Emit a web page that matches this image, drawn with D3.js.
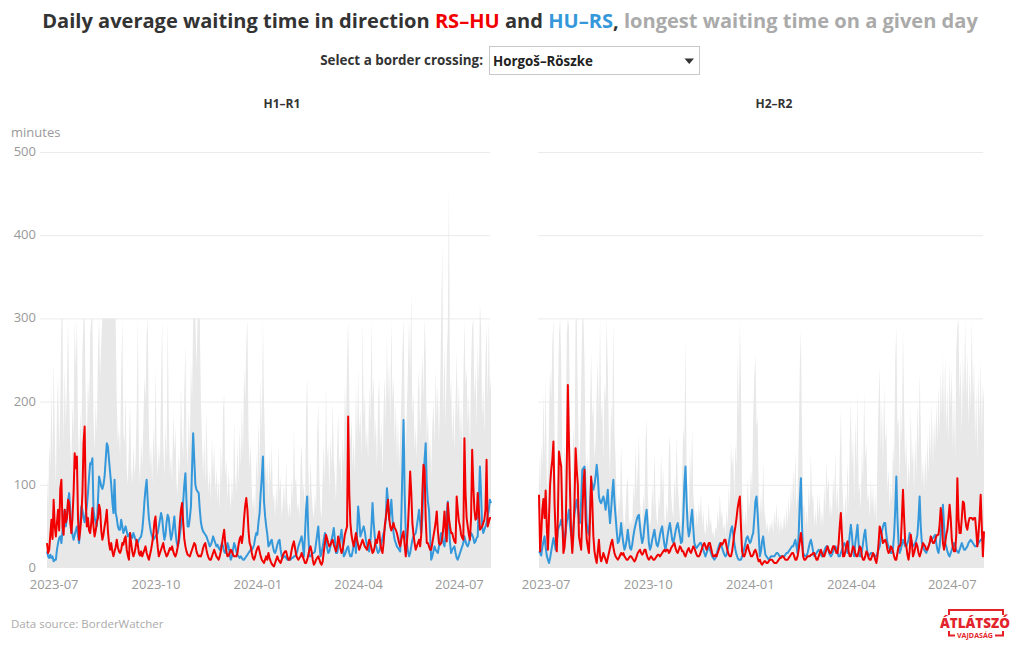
<!DOCTYPE html>
<html><head><meta charset="utf-8">
<script src="https://cdn.jsdelivr.net/npm/d3@7"></script>
<style>body{margin:0;background:#fff;} svg{display:block;font-family:"Open Sans",sans-serif;}</style>
</head><body><svg id="c" width="1020" height="650"></svg>
<script>
// ---------- DATA ----------
const startDate = "2023-06-25";
const panelTitles = ["H1–R1", "H2–R2"];
const xTickLabels = ["2023-07", "2023-10", "2024-01", "2024-04", "2024-07"];
const yTicks = [0, 100, 200, 300, 400, 500];

// H1–R1 : RS–HU daily average (minutes)
const L_RSHU = [
30,18,22,40,58,35,82,50,38,55, 70,45,95,106,50,40,70,55,60,82, 78,55,42,60,90,138,120,134,60,34,
45,62,90,150,170,80,50,60,45,42, 55,72,50,38,45,55,60,76,70,45, 34,40,50,58,70,45,30,22,30,20,
14,20,25,34,25,20,18,22,30,28, 35,38,22,15,10,42,30,20,14,18, 25,34,28,18,15,20,14,18,22,26,
18,14,10,16,22,30,40,55,62,40, 25,14,18,22,26,30,22,18,14,16, 20,24,22,26,20,16,14,18,25,35,
55,70,78,55,35,26,20,16,15,14, 18,22,26,30,28,20,16,14,15,14, 18,24,28,30,22,16,12,10,10,14,
18,22,18,14,12,10,14,20,28,38, 46,30,20,14,15,18,22,20,16,14, 14,14,18,28,35,38,30,40,60,75,
84,70,45,30,26,18,12,10,14,20, 24,26,20,14,10,8,6,10,14,10, 18,12,8,5,3,2,6,10,14,10,
8,6,10,15,18,20,20,14,10,10, 14,22,28,32,24,16,12,10,12,14, 18,14,10,6,6,10,16,22,26,20,
10,4,6,10,12,14,10,6,4,8, 20,30,40,35,30,26,28,32,34,28, 24,20,26,38,32,24,18,22,30,40,
45,50,182,90,54,40,32,26,34,42, 34,28,22,26,30,34,30,26,24,22, 28,34,30,24,18,20,26,34,30,38,
44,30,22,18,30,50,60,72,82,60, 50,45,50,54,48,46,42,36,30,26, 34,40,44,28,14,30,50,80,116,90,
54,40,30,22,26,30,34,26,40,90, 124,118,60,30,30,26,22,22,30,38, 46,55,68,45,30,28,30,36,50,68,
45,32,78,60,50,42,42,36,32,30, 86,70,56,50,40,36,34,156,90,60, 50,40,34,60,142,100,70,58,60,90,
70,46,48,50,54,58,70,130,50,55, 60,60];

// H1–R1 : HU–RS daily average (minutes)
const L_HURS = [
20,14,12,16,12,14,8,10,10,22, 30,36,38,30,45,60,70,50,60,80, 90,70,50,40,34,40,45,50,38,30,
55,74,70,60,55,66,74,90,110,126, 125,132,70,60,55,50,80,110,105,98, 95,100,110,130,150,146,130,115,100,80,
66,106,66,60,50,46,46,58,50,42, 46,50,44,38,40,42,38,36,42,38, 34,32,30,34,36,38,45,60,80,95,
106,80,60,50,42,38,34,36,38,40, 42,50,58,66,60,45,34,40,55,64, 60,45,34,40,50,62,45,32,26,30,
40,50,60,80,100,114,80,50,50,60, 74,120,162,130,100,94,92,90,70,55, 48,44,42,40,38,34,30,26,28,32,
38,34,30,26,28,24,22,26,30,26, 20,18,22,30,26,16,10,14,22,30, 26,20,16,14,12,14,12,10,10,12,
14,16,18,20,22,22,24,28,36,42, 40,55,66,90,110,134,80,62,50,40, 26,28,32,34,26,20,18,22,28,32,
34,22,14,12,14,14,12,10,10,10, 10,12,12,14,14,16,20,26,30,34, 38,28,14,40,70,86,40,14,14,16,
18,18,20,30,40,50,30,14,18,26, 34,42,36,24,18,20,26,34,40,48, 34,18,18,24,30,38,46,30,14,16,
20,24,26,18,14,14,20,28,34,18, 40,74,60,38,42,46,50,44,34,28, 22,20,30,50,78,55,38,28,22,18,
20,26,30,36,42,46,60,96,80,58, 66,82,60,42,34,30,26,24,22,20, 60,120,178,90,42,30,20,14,18,26,
34,38,40,42,50,60,70,55,42,60, 100,130,150,100,80,70,40,10,14,20, 26,22,20,18,26,35,42,36,30,26,
40,65,80,50,30,18,22,24,26,18, 12,10,14,18,22,26,30,38,32,28, 26,30,36,42,40,36,30,32,36,38,
80,122,90,50,42,46,50,54,62,70, 82,78];

// H1–R1 : longest waiting time of the day (minutes)
const L_MAX = [
110,70,150,120,220,130,250,160,100,190, 230,140,200,300,300,150,240,170,220,300, 210,150,120,200,160,300,240,300,170,120,
190,150,260,300,300,200,150,230,190,280, 300,300,180,140,200,160,260,300,230,270, 300,300,300,300,300,300,300,300,300,300,
300,300,300,200,150,170,130,230,300,160, 150,210,120,100,150,200,120,100,150,110, 130,190,300,130,100,160,120,170,230,200,
280,300,170,120,150,100,170,130,240,150, 110,150,120,220,300,150,110,170,130,300, 180,110,140,100,190,140,170,100,90,140,
110,220,160,130,210,270,150,120,190,140, 250,200,300,300,300,240,300,300,300,200, 150,110,160,100,190,120,90,120,80,160,
110,150,90,120,80,110,70,150,100,190, 210,110,130,80,120,90,70,110,80,180, 110,90,150,100,170,120,200,130,240,200,
270,300,160,120,150,90,70,90,60,140, 100,180,120,230,160,300,200,140,100,130, 80,140,100,150,80,90,60,100,70,150,
90,110,60,80,100,70,130,80,60,80, 60,110,80,170,100,110,70,80,60,120, 150,90,100,70,190,230,120,80,130,90,
70,60,90,70,160,200,110,70,60,110, 150,100,220,130,150,90,160,120,200,130, 110,80,140,190,120,140,90,160,120,220,
170,250,300,200,150,180,120,160,110,220, 150,240,160,190,130,300,180,210,140,170, 130,220,170,300,200,230,150,180,120,200,
230,140,180,110,190,230,170,280,200,250, 170,300,200,230,150,200,130,180,120,160, 200,260,300,190,140,190,240,300,230,334,
180,210,140,170,130,210,240,160,210,260, 200,300,260,150,190,130,160,110,170,200, 150,240,180,220,150,210,300,390,180,270,
170,250,290,462,200,230,150,200,140,200, 260,180,220,150,200,130,220,300,220,240, 170,210,140,240,290,300,200,240,170,270,
220,318,290,180,220,160,250,290,200,300, 210,230];

// H2–R2 : RS–HU daily average
const R_RSHU = [
88,20,40,70,83,60,93,50,22,60, 100,118,130,152,78,40,20,60,140,130, 122,60,18,25,42,120,220,150,90,40,
18,40,80,144,118,100,38,30,22,60, 100,118,60,34,25,18,60,110,80,38, 20,12,6,20,34,15,8,12,18,14,
10,6,12,18,24,30,34,25,18,14, 12,10,12,15,18,16,18,14,12,10, 10,12,14,14,12,10,8,10,14,18,
20,22,18,16,18,22,22,16,12,10, 12,14,12,10,10,12,14,16,16,14, 16,18,20,22,20,22,22,18,20,24,
26,28,30,24,20,18,22,26,24,20, 20,16,14,18,22,24,20,18,22,26, 24,20,16,14,14,16,20,24,28,30,
26,22,26,30,30,24,18,14,14,16, 14,18,22,26,30,28,30,34,34,26, 20,16,14,14,20,30,42,50,60,72,
80,86,50,20,14,14,18,24,28,22, 18,14,14,16,20,22,18,12,8,10, 6,4,6,8,8,6,6,8,10,10,
10,8,6,6,6,8,10,12,12,14, 14,12,10,10,10,12,14,16,18,18, 14,10,10,14,22,32,42,30,14,10,
10,12,14,14,14,16,16,18,18,14, 10,10,14,18,22,18,14,14,18,22, 26,22,18,18,22,26,26,22,18,18,
30,50,66,40,14,14,20,28,32,20, 14,14,20,26,24,18,14,14,20,26, 24,14,10,10,14,20,18,12,10,10,
14,18,16,10,6,14,30,50,45,38, 30,32,34,30,22,18,20,26,24,20, 14,10,10,18,26,26,30,60,94,60,
30,26,16,10,20,40,30,14,18,24, 30,26,18,14,18,24,30,28,26,22, 22,26,30,38,34,30,30,34,38,40,
40,52,72,60,30,22,30,40,46,60, 76,60,34,24,20,20,40,108,60,42, 42,60,80,78,60,50,46,55,60,60,
60,58,60,60,45,26,40,60,88,50, 14,44];

// H2–R2 : HU–RS daily average
const R_HURS = [
20,18,15,25,32,38,25,15,10,6, 12,20,28,36,30,22,30,45,50,52, 58,50,40,36,45,55,62,70,50,40,
36,50,65,75,82,70,60,54,80,118, 120,122,90,54,45,40,70,106,100,94, 100,110,124,110,86,80,78,82,86,80,
70,80,94,70,54,70,90,106,80,62, 45,30,32,40,54,40,30,22,26,34, 46,34,24,22,28,38,46,52,58,62,
64,50,38,30,36,50,62,70,50,30, 22,26,34,40,46,36,28,26,32,40, 46,50,38,28,22,30,40,48,54,44,
34,30,36,44,50,54,46,38,30,32, 60,100,122,80,50,38,45,60,70,48, 30,26,24,26,28,30,30,26,22,18,
14,18,22,26,22,18,14,12,10,12, 16,22,26,30,28,24,20,16,14,16, 22,30,38,46,50,40,30,22,16,12,
10,10,10,14,18,24,30,36,38,34, 30,32,38,42,60,80,86,66,40,14, 20,32,38,26,16,14,12,10,12,14,
14,14,14,16,18,18,16,14,14,14, 14,14,16,18,18,20,22,24,26,26, 30,34,26,18,40,80,108,50,18,16,
14,14,18,24,30,34,28,20,14,16, 18,20,22,20,16,14,16,20,24,26, 26,20,16,14,16,20,24,26,24,18,
14,14,18,22,26,30,28,22,18,26, 40,52,40,20,14,30,40,52,30,14, 14,20,30,40,46,30,18,14,16,18,
18,16,14,14,14,18,22,26,34,44, 50,54,54,40,30,26,22,18,18,24, 40,70,110,60,30,18,22,28,34,30,
26,26,30,34,42,36,30,26,28,30, 34,40,60,86,50,30,26,22,20,18, 22,26,30,32,34,36,38,40,30,22,
18,26,40,60,76,50,30,26,20,16, 14,18,22,26,30,26,22,20,18,22, 26,30,26,22,22,24,26,30,32,34,
32,30,28,26,26,28,30,32,34,34, 36,38];

// H2–R2 : longest waiting time of the day
const R_MAX = [
140,90,150,120,210,130,230,110,90,180, 240,200,270,300,160,110,90,200,280,300, 250,130,80,150,120,280,300,290,170,110,
90,170,130,300,300,200,120,150,220,300, 300,250,140,110,140,90,190,260,180,200, 130,150,210,250,180,300,180,200,130,220,
200,300,240,150,110,200,160,300,160,130, 80,60,90,70,150,90,60,50,70,100, 110,60,50,60,50,100,80,150,90,120,
160,80,60,50,90,70,150,180,90,60, 50,60,100,70,140,80,60,50,90,70, 140,90,120,60,50,80,60,140,160,90,
70,60,110,80,160,100,80,60,50,110, 170,150,278,120,90,60,140,100,170,90, 70,50,70,50,80,60,90,50,70,45,
40,60,45,80,50,60,40,45,35,50, 45,70,50,90,60,70,45,55,40,70, 50,100,70,150,120,140,80,150,120,260,
180,298,220,90,60,50,70,50,110,70, 80,120,90,180,230,258,170,180,90,60, 90,60,130,70,60,45,55,40,55,45,
60,40,70,50,80,45,65,40,60,45, 50,65,45,75,50,85,60,100,70,120, 80,140,70,90,150,240,286,160,70,80,
50,70,50,100,70,140,80,90,50,70, 50,90,60,90,50,70,50,100,70,130, 90,110,60,80,60,110,80,140,70,100,
60,130,190,110,80,50,90,60,130,70, 150,200,120,160,80,180,120,214,90,100, 70,150,100,214,130,150,80,90,60,110,
70,100,60,90,50,140,200,242,140,200, 120,222,150,170,90,120,70,100,80,150, 120,250,290,170,180,100,200,150,290,190,
120,160,90,130,100,194,120,150,90,160, 110,200,140,234,170,100,130,90,140,100, 160,110,180,130,200,120,180,140,200,150,
220,160,240,180,258,170,258,160,220,150, 250,190,240,140,210,130,260,290,300,200, 250,160,260,200,300,200,260,170,240,190,
300,200,250,150,220,130,240,170,250,160, 220,200];

// ---------- CHART ----------
const RED = "#f20000", BLUE = "#3498db", GREY_AREA = "#e8e8e8";
const svg = d3.select("#c");
const parseDay = d3.timeParse("%Y-%m-%d");
const parseMonth = d3.timeParse("%Y-%m");
const t0 = parseDay(startDate);

function fit(sel, target) {
  const n = sel.node();
  const fs = parseFloat(sel.attr("font-size"));
  const w = n.getComputedTextLength();
  sel.attr("font-size", (fs * target / w).toFixed(2));
}

// Title
const title = svg.append("text").attr("x", 510).attr("y", 28).attr("text-anchor", "middle")
  .attr("font-size", 19).attr("font-weight", 700).attr("fill", "#333");
title.append("tspan").text("Daily average waiting time in direction ");
title.append("tspan").attr("fill", RED).text("RS–HU");
title.append("tspan").text(" and ");
title.append("tspan").attr("fill", BLUE).text("HU–RS");
title.append("tspan").text(", ");
title.append("tspan").attr("fill", "#aaa").text("longest waiting time on a given day");
fit(title, 936);

// Selector
const lab = svg.append("text").attr("x", 483).attr("y", 65).attr("text-anchor", "end")
  .attr("font-size", 13).attr("font-weight", 700).attr("fill", "#333").text("Select a border crossing:");
fit(lab, 163);
svg.append("rect").attr("x", 489.5).attr("y", 46.5).attr("width", 210).attr("height", 28)
  .attr("fill", "#fff").attr("stroke", "#c8c8c8");
const opt = svg.append("text").attr("x", 493).attr("y", 66).attr("font-size", 13).attr("font-weight", 700)
  .attr("fill", "#222").text("Horgoš–Röszke");
fit(opt, 100);
svg.append("path").attr("d", "M684.5,58.5 L694,58.5 L689.25,64 Z").attr("fill", "#333");

const panels = [
  {title: panelTitles[0], red: L_RSHU, blue: L_HURS, max: L_MAX, range: [47, 491], gridStart: 40, titleX: 282, labels: true},
  {title: panelTitles[1], red: R_RSHU, blue: R_HURS, max: R_MAX, range: [539, 984], gridStart: 538, titleX: 774, labels: false}
];

const y = d3.scaleLinear().domain([0, 500]).range([568, 152]);

panels.forEach(p => {
  const n = p.red.length;
  const dates = d3.range(n).map(i => d3.timeDay.offset(t0, i));
  const x = d3.scaleTime().domain([t0, dates[n - 1]]).range(p.range);
  const g = svg.append("g");

  g.append("text").attr("x", p.titleX).attr("y", 108).attr("text-anchor", "middle")
    .attr("font-size", 12).attr("font-weight", 700).attr("fill", "#333").text(p.title);

  g.selectAll("line.grid").data(yTicks.filter(v => v > 0)).join("line")
    .attr("x1", p.gridStart).attr("x2", p.range[1] - 1)
    .attr("y1", d => y(d) + 0.5).attr("y2", d => y(d) + 0.5)
    .attr("stroke", "#ebebeb").attr("stroke-width", 1);

  if (p.labels) {
    g.selectAll("text.yl").data(yTicks).join("text")
      .attr("x", 36).attr("y", d => y(d)).attr("dy", "0.3em").attr("text-anchor", "end")
      .attr("font-size", 13).attr("fill", "#999").text(d => d);
    g.append("text").attr("x", 11).attr("y", 137).attr("font-size", 13).attr("fill", "#999").text("minutes");
  }

  const area = d3.area().x((d, i) => x(dates[i])).y0(y(0)).y1(d => y(d));
  g.append("path").datum(p.max).attr("d", area).attr("fill", GREY_AREA);

  const line = d3.line().x((d, i) => x(dates[i])).y(d => y(d));
  g.append("path").datum(p.blue).attr("d", line).attr("fill", "none")
    .attr("stroke", BLUE).attr("stroke-width", 2).attr("stroke-linejoin", "round");
  g.append("path").datum(p.red).attr("d", line).attr("fill", "none")
    .attr("stroke", RED).attr("stroke-width", 2).attr("stroke-linejoin", "round");

  const ax = g.append("g").attr("transform", `translate(0,${y(0)})`)
    .call(d3.axisBottom(x).tickValues(xTickLabels.map(parseMonth))
      .tickFormat(d3.timeFormat("%Y-%m")).tickSize(0).tickPadding(12));
  ax.select(".domain").remove();
  ax.selectAll("text").attr("font-size", 13).attr("fill", "#999").attr("font-family", '"Open Sans",sans-serif');
});

// Source
svg.append("text").attr("x", 11).attr("y", 628).attr("font-size", 11.5).attr("fill", "#aaa")
  .text("Data source: BorderWatcher");

// Logo
const LOGO = "#e3232b";
const logo = svg.append("g");
logo.append("path").attr("d", "M949,615 V610 H1003 V615").attr("fill", "none").attr("stroke", LOGO).attr("stroke-width", 2);
logo.append("text").attr("x", 975).attr("y", 628).attr("text-anchor", "middle").attr("font-size", 14)
  .attr("font-weight", 800).attr("fill", LOGO).attr("textLength", 70).attr("lengthAdjust", "spacingAndGlyphs").text("ÁTLÁTSZÓ");
logo.append("text").attr("x", 975).attr("y", 637.5).attr("text-anchor", "middle").attr("font-size", 6.5)
  .attr("font-weight", 700).attr("fill", LOGO).attr("textLength", 36).attr("lengthAdjust", "spacingAndGlyphs").text("VAJDASÁG");
logo.append("path").attr("d", "M949,631 V635.5 H955 M995,635.5 H1003 V631").attr("fill", "none").attr("stroke", LOGO).attr("stroke-width", 2);
</script></body></html>
